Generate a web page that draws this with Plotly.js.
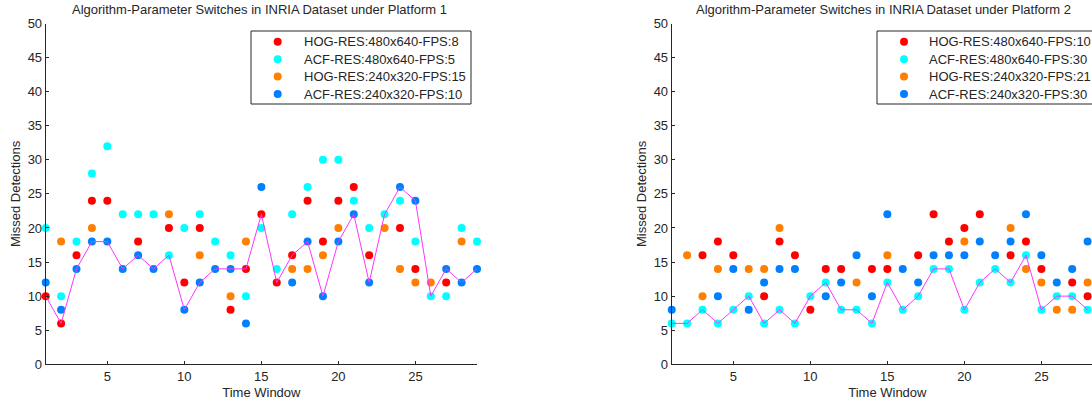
<!DOCTYPE html>
<html>
<head>
<meta charset="utf-8">
<script src="https://cdn.plot.ly/plotly-3.0.1.min.js"></script>
<style>
html, body { margin: 0; padding: 0; overflow: hidden; background: #fff; }
#chart { width: 1110px; height: 407px; }
</style>
</head>
<body>
<div id="chart"></div>
<script>
// ---------- data ----------
const timeWindows = [1,2,3,4,5,6,7,8,9,10,11,12,13,14,15,16,17,18,19,20,21,22,23,24,25,26,27,28,29];

// Platform 1 (null = hidden behind another marker / not readable)
const p1Names = ['HOG-RES:480x640-FPS:8', 'ACF-RES:480x640-FPS:5', 'HOG-RES:240x320-FPS:15', 'ACF-RES:240x320-FPS:10'];
const p1HogHigh = [10,6,16,24,24,null,18,null,20,12,20,null,8,14,22,12,16,24,18,24,26,16,null,20,14,null,12,null,null];
const p1AcfHigh = [20,10,18,28,32,22,22,22,16,20,22,18,16,10,20,14,22,26,30,30,24,20,22,24,18,10,10,20,18];
const p1HogLow  = [null,18,null,20,null,null,null,null,22,null,16,null,10,18,null,null,14,14,16,20,null,null,20,14,12,12,null,18,null];
const p1AcfLow  = [12,8,14,18,18,14,16,14,null,8,12,14,14,6,26,null,12,18,10,18,22,12,null,26,24,null,14,12,14];
const p1Selected = [10,6,14,18,18,14,16,14,16,8,12,14,14,14,22,12,16,18,10,18,22,12,22,26,24,10,14,12,14];

// Platform 2 (window 29 lies outside the visible picture)
const p2Names = ['HOG-RES:480x640-FPS:10', 'ACF-RES:480x640-FPS:30', 'HOG-RES:240x320-FPS:21', 'ACF-RES:240x320-FPS:30'];
const p2HogHigh = [null,null,16,18,16,null,10,18,16,8,14,14,null,14,14,null,16,22,18,20,22,null,16,18,14,null,12,10,null];
const p2AcfHigh = [6,6,8,6,8,10,6,8,6,10,12,8,8,6,12,8,10,14,14,8,12,14,12,16,8,10,10,8,null];
const p2HogLow  = [null,16,10,14,null,14,14,20,null,null,null,null,12,null,16,null,null,null,null,18,null,null,20,14,12,8,8,12,null];
const p2AcfLow  = [8,null,null,10,14,8,12,14,14,null,10,12,16,10,22,14,12,16,16,16,18,16,18,22,16,12,14,18,null];
const p2Selected = [6,6,8,6,8,10,6,8,6,10,12,8,8,6,12,8,10,14,14,8,12,14,12,16,8,10,10,8,null];

const titles = ['Algorithm-Parameter Switches in INRIA Dataset under Platform 1',
                'Algorithm-Parameter Switches in INRIA Dataset under Platform 2'];
const xTitle = 'Time Window';
const yTitle = 'Missed Detections';

// ---------- styles ----------
const colors = ['#ff0000', '#00ffff', '#ff8000', '#0080ff'];
const lineColor = '#ff33ff';
const textColor = '#262626';
const FONT = 'Liberation Sans, Arial, Helvetica, sans-serif';
const W = 1110, H = 407;

function markerTrace(y, name, color, xa, ya) {
  return {
    x: timeWindows, y: y, name: name, type: 'scatter', mode: 'markers', showlegend: false,
    marker: { color: color, size: 8, line: { width: 0 } },
    xaxis: xa, yaxis: ya, cliponaxis: false
  };
}
function lineTrace(y, xa, ya) {
  return {
    x: timeWindows, y: y, type: 'scatter', mode: 'lines', showlegend: false,
    line: { color: lineColor, width: 1 }, xaxis: xa, yaxis: ya, connectgaps: false
  };
}

const p1Series = [p1HogHigh, p1AcfHigh, p1HogLow, p1AcfLow];
const p2Series = [p2HogHigh, p2AcfHigh, p2HogLow, p2AcfLow];
const data = [];
p1Series.forEach((s, i) => data.push(markerTrace(s, p1Names[i], colors[i], 'x', 'y')));
data.push(lineTrace(p1Selected, 'x', 'y'));
p2Series.forEach((s, i) => data.push(markerTrace(s, p2Names[i], colors[i], 'x2', 'y2')));
data.push(lineTrace(p2Selected, 'x2', 'y2'));

const px = v => v / W;
const py = v => 1 - v / H;

function xAxis(domain, anchor) {
  return {
    domain: domain, anchor: anchor, range: [1, 29], tick0: 0, dtick: 5,
    ticks: 'inside', ticklen: 3, tickcolor: textColor, tickwidth: 1,
    showline: true, linecolor: textColor, linewidth: 1, showgrid: false, zeroline: false,
    tickfont: { family: FONT, size: 13, color: textColor },
    title: { text: xTitle, font: { family: FONT, size: 13, color: textColor }, standoff: 4 },
    automargin: false, fixedrange: true
  };
}
function yAxis(domain, anchor) {
  return {
    domain: domain, anchor: anchor, range: [0, 50], tick0: 0, dtick: 5,
    ticks: 'inside', ticklen: 3, tickcolor: textColor, tickwidth: 1,
    showline: true, linecolor: textColor, linewidth: 1, showgrid: false, zeroline: false,
    tickfont: { family: FONT, size: 13, color: textColor },
    title: { text: yTitle, font: { family: FONT, size: 13, color: textColor }, standoff: 4 },
    automargin: false, fixedrange: true
  };
}

// ---------- legend boxes (drawn as shapes + annotations) ----------
const shapes = [];
const annotations = [];
function buildLegend(boxLeft, boxRight, markerX, textX, names) {
  shapes.push({ type: 'rect', xref: 'paper', yref: 'paper',
    x0: px(boxLeft), x1: px(boxRight), y0: py(104), y1: py(31),
    line: { color: textColor, width: 1 }, fillcolor: '#ffffff', layer: 'above' });
  const rowY = [41.7, 59.2, 76.6, 94];
  names.forEach((n, i) => {
    shapes.push({ type: 'circle', xref: 'paper', yref: 'paper',
      xsizemode: 'pixel', ysizemode: 'pixel', xanchor: px(markerX), yanchor: py(rowY[i]),
      x0: -4, x1: 4, y0: -4, y1: 4, fillcolor: colors[i], line: { width: 0 }, layer: 'above' });
    annotations.push({ text: n, xref: 'paper', yref: 'paper', x: px(textX), y: py(rowY[i]),
      xanchor: 'left', yanchor: 'middle', showarrow: false,
      font: { family: FONT, size: 13, color: textColor } });
  });
}
buildLegend(251, 471, 277.7, 301.5, p1Names);
buildLegend(877, 1104, 904, 927, p2Names);

annotations.push(
  { text: titles[0], xref: 'paper', yref: 'paper', x: px(259), y: py(10), xanchor: 'center', yanchor: 'middle',
    showarrow: false, font: { family: FONT, size: 13, color: textColor } },
  { text: titles[1], xref: 'paper', yref: 'paper', x: px(883), y: py(10), xanchor: 'center', yanchor: 'middle',
    showarrow: false, font: { family: FONT, size: 13, color: textColor } }
);

const yDom = [py(364.3), py(23.5)];
const layout = {
  width: W, height: H,
  margin: { l: 0, r: 0, t: 0, b: 0 },
  paper_bgcolor: '#ffffff', plot_bgcolor: '#ffffff',
  showlegend: false,
  xaxis: xAxis([px(45.7), px(477)], 'y'),
  yaxis: yAxis(yDom, 'x'),
  xaxis2: xAxis([px(671.7), px(1103)], 'y2'),
  yaxis2: yAxis(yDom, 'x2'),
  shapes: shapes,
  annotations: annotations
};

Plotly.newPlot('chart', data, layout, { displayModeBar: false, staticPlot: true });
</script>
</body>
</html>
